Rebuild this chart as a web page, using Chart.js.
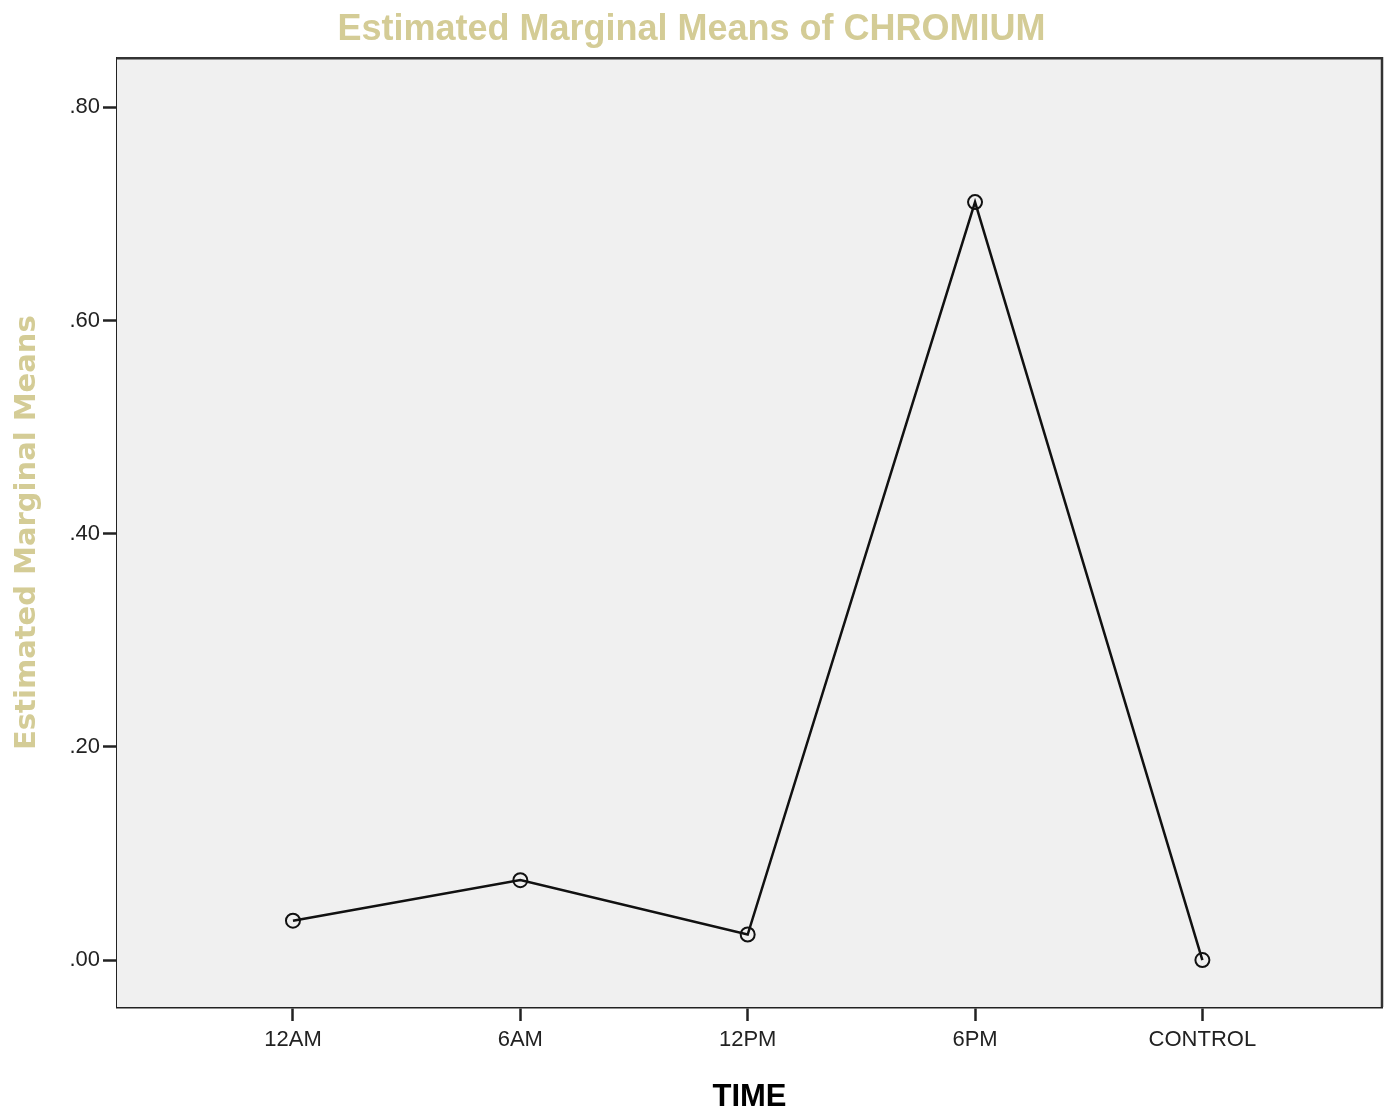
<!DOCTYPE html>
<html lang="en">
<head>
<meta charset="UTF-8">
<title>Estimated Marginal Means of CHROMIUM</title>
<script src="https://cdn.jsdelivr.net/npm/chart.js"></script>
<style>
  html, body { margin: 0; padding: 0; background: #fff; }
  #wrap { width: 1391px; height: 1116px; }
</style>
</head>
<body>
<div id="wrap"><canvas id="emm" width="1391" height="1116"></canvas></div>
<script>
// data
const categories = ['12AM', '6AM', '12PM', '6PM', 'CONTROL'];
const meanValues = [0.037, 0.075, 0.024, 0.711, 0.0];
const yTickValues = [0, 0.2, 0.4, 0.6, 0.8];

// plot background + top/right frame (SPSS style)
const frame = {
  id: 'frame',
  beforeDatasetsDraw(chart) {
    const { ctx, chartArea: a } = chart;
    ctx.save();
    ctx.fillStyle = '#f0f0f0';
    ctx.fillRect(a.left, a.top, a.right - a.left, a.bottom - a.top);
    ctx.restore();
  },
  afterDraw(chart) {
    const { ctx, chartArea: a } = chart;
    ctx.save();
    ctx.strokeStyle = '#333';
    ctx.lineWidth = 2.5;
    ctx.beginPath();
    ctx.moveTo(a.left, a.top);
    ctx.lineTo(a.right, a.top);
    ctx.lineTo(a.right, a.bottom);
    ctx.stroke();
    ctx.restore();
  }
};

const ctx = document.getElementById('emm').getContext('2d');
new Chart(ctx, {
  type: 'line',
  data: {
    datasets: [{
      data: meanValues.map((v, i) => ({ x: i, y: v })),
      borderColor: '#111',
      borderWidth: 2.5,
      pointRadius: 7,
      pointBorderWidth: 2,
      pointBorderColor: '#111',
      pointBackgroundColor: 'rgba(0,0,0,0)',
      tension: 0
    }]
  },
  options: {
    responsive: false,
    animation: false,
    layout: { padding: { left: 0, right: 8, top: 0, bottom: 0 } },
    scales: {
      x: {
        type: 'linear',
        min: -0.774,
        max: 4.79,
        afterBuildTicks: s => { s.ticks = categories.map((c, i) => ({ value: i })); },
        afterFit: s => { s.height = 109; },
        border: { color: '#222', width: 2.5 },
        grid: { drawOnChartArea: false, drawTicks: true, tickLength: 14, tickWidth: 2.5, color: '#222' },
        ticks: {
          color: '#222',
          padding: 6,
          maxRotation: 0,
          font: { family: 'Liberation Sans', size: 22 },
          callback: v => categories[v]
        },
        title: {
          display: true,
          text: 'TIME',
          color: '#000',
          font: { family: 'Liberation Sans', size: 31, weight: 'bold' },
          padding: { top: 14, bottom: 0 }
        }
      },
      y: {
        min: -0.044,
        max: 0.846,
        afterBuildTicks: s => { s.ticks = yTickValues.map(v => ({ value: v })); },
        afterFit: s => { s.width = 117; },
        border: { color: '#222', width: 2.5 },
        grid: { drawOnChartArea: false, drawTicks: true, tickLength: 14, tickWidth: 2.5, color: '#222' },
        ticks: {
          color: '#222',
          padding: 3,
          font: { family: 'Liberation Sans', size: 22 },
          callback: v => v.toFixed(2).replace(/^0/, '')
        },
        title: {
          display: true,
          text: 'Estimated Marginal Means',
          color: '#d4cc96',
          font: { family: 'DejaVu Sans', size: 29, weight: 'bold' },
          padding: { top: 10, bottom: 0 }
        }
      }
    },
    plugins: {
      legend: { display: false },
      tooltip: { enabled: false },
      title: {
        display: true,
        text: 'Estimated Marginal Means of CHROMIUM',
        color: '#d4cc96',
        font: { family: 'Liberation Sans', size: 36, weight: 'bold' },
        padding: { top: 8, bottom: 7 }
      }
    }
  },
  plugins: [frame]
});
</script>
</body>
</html>
